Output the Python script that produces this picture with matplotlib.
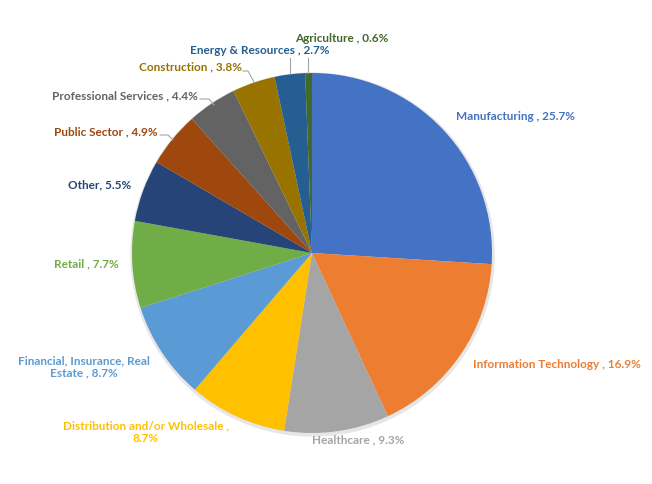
import matplotlib
matplotlib.use("Agg")
import matplotlib.pyplot as plt

# sectors clockwise from 12 o'clock
sectors = ["Manufacturing", "Information Technology", "Healthcare",
           "Distribution and/or Wholesale", "Financial, Insurance, Real\nEstate",
           "Retail", "Other", "Public Sector", "Professional Services",
           "Construction", "Energy & Resources", "Agriculture"]
shares = [25.7, 16.9, 9.3, 8.7, 8.7, 7.7, 5.5, 4.9, 4.4, 3.8, 2.7, 0.6]
seps = [" , ", " , ", " , ", " ,\n", " , ", " , ", ", ", " , ", " , ", " , ",
        " , ", " , "]
colors = ["#4472C4", "#ED7D31", "#A5A5A5", "#FFC000", "#5B9BD5", "#70AD47",
          "#264478", "#9E480E", "#636363", "#997300", "#255E91", "#43682B"]

W, H = 652, 484
CX, CY, R = 312, 253, 180   # pie centre / radius in image pixels

# label anchor (image px) and horizontal alignment, same order as sectors
label_pos = [(456, 116, "left"), (473, 365, "left"), (358, 440, "center"),
             (146, 432, "center"), (84, 367, "center"), (119, 264, "right"),
             (131, 185, "right"), (158, 132, "right"), (198, 96, "right"),
             (242, 67, "right"), (330, 51, "right"), (295, 39, "left")]

# leader lines (image px)
leaders = [
    [(160, 135), (168, 135), (173, 140)],
    [(200, 99), (209, 99), (214, 105)],
    [(243, 71), (248, 71), (254, 82)],
    [(290, 58), (290, 73)],
    [(308, 58), (308, 73)],
]

fig = plt.figure(figsize=(W / 100, H / 100), dpi=100)
ax = fig.add_axes([0, 0, 1, 1])

# faint shadow behind the pie
ax.add_patch(plt.Circle((CX + 0.5, H - CY - 1.5), R + 1.5, color="#e6e6e6",
                        zorder=0))
ax.pie(shares, colors=colors, startangle=90, counterclock=False,
       center=(CX, H - CY), radius=R,
       wedgeprops=dict(linewidth=0, zorder=1))

for pts in leaders:
    ax.plot([p[0] for p in pts], [H - p[1] for p in pts], color="#A6A6A6",
            lw=0.8, zorder=2)

for name, val, sep, col, (x, y, ha) in zip(sectors, shares, seps, colors,
                                           label_pos):
    ax.text(x, H - y, f"{name}{sep}{val:.1f}%", color=col, ha=ha,
            va="center", multialignment="center", fontsize=8.5,
            fontweight="bold", family="Lato", linespacing=1.15)

ax.set_xlim(0, W)
ax.set_ylim(0, H)
ax.set_aspect("equal")
ax.axis("off")
fig.savefig("out.png", dpi=100, facecolor="white")
